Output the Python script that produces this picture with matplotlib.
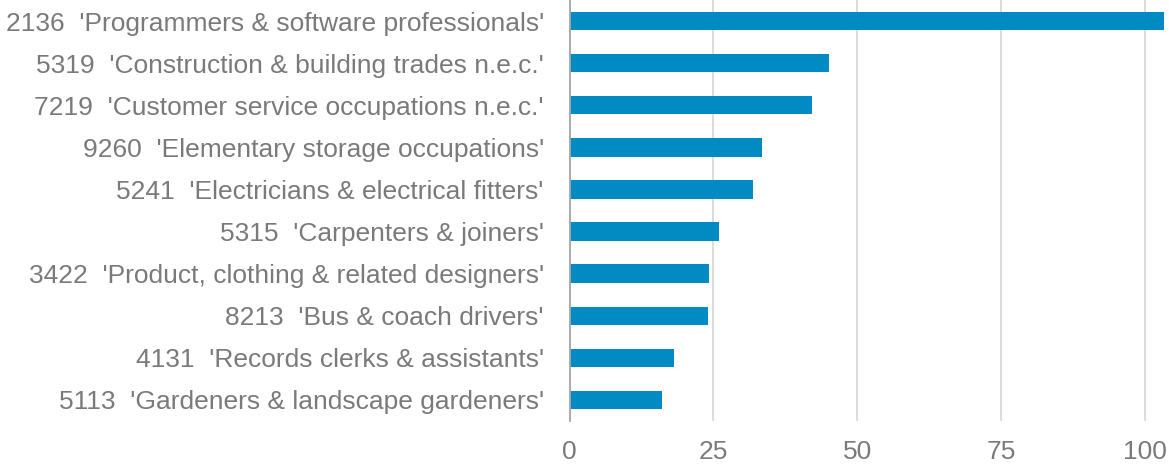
import numpy as np
import matplotlib.pyplot as plt

labels = ["2136  'Programmers & software professionals'",
          "5319  'Construction & building trades n.e.c.'",
          "7219  'Customer service occupations n.e.c.'",
          "9260  'Elementary storage occupations'",
          "5241  'Electricians & electrical fitters'",
          "5315  'Carpenters & joiners'",
          "3422  'Product, clothing & related designers'",
          "8213  'Bus & coach drivers'",
          "4131  'Records clerks & assistants'",
          "5113  'Gardeners & landscape gardeners'"]
values = [103.3, 45.0, 42.2, 33.5, 31.8, 25.9, 24.3, 24.1, 18.2, 16.1]
xticks = [0, 25, 50, 75, 100]

plt.rcParams['font.family'] = ['Liberation Sans', 'DejaVu Sans']
txt = '#7a7a7a'

fig = plt.figure(figsize=(11.69, 4.66), dpi=100)
ax = fig.add_axes([569.5 / 1169, 45 / 466, (1163.5 - 569.5) / 1169, 421 / 466])

y = np.arange(len(labels))
ax.barh(y, values, height=0.435, color='#028ac2', zorder=3)
ax.set_ylim(len(labels) - 0.5, -0.5)
ax.set_xlim(0, 103.2)
ax.set_yticks(y)
ax.set_yticklabels(labels, fontsize=19, color=txt)
ax.set_xticks(xticks)
ax.set_xticklabels([str(t) for t in xticks], fontsize=19, color=txt)
ax.tick_params(axis='y', length=0, pad=18.5)
ax.tick_params(axis='x', length=0, pad=14)
ax.grid(axis='x', color='#d9d9d9', linewidth=1.3, zorder=0)
for s in ['top', 'right', 'bottom']:
    ax.spines[s].set_visible(False)
ax.spines['left'].set_color('#a6a6a6')
ax.spines['left'].set_linewidth(1.3)
ax.spines['left'].set_zorder(4)

fig.savefig('out.png', dpi=100)
